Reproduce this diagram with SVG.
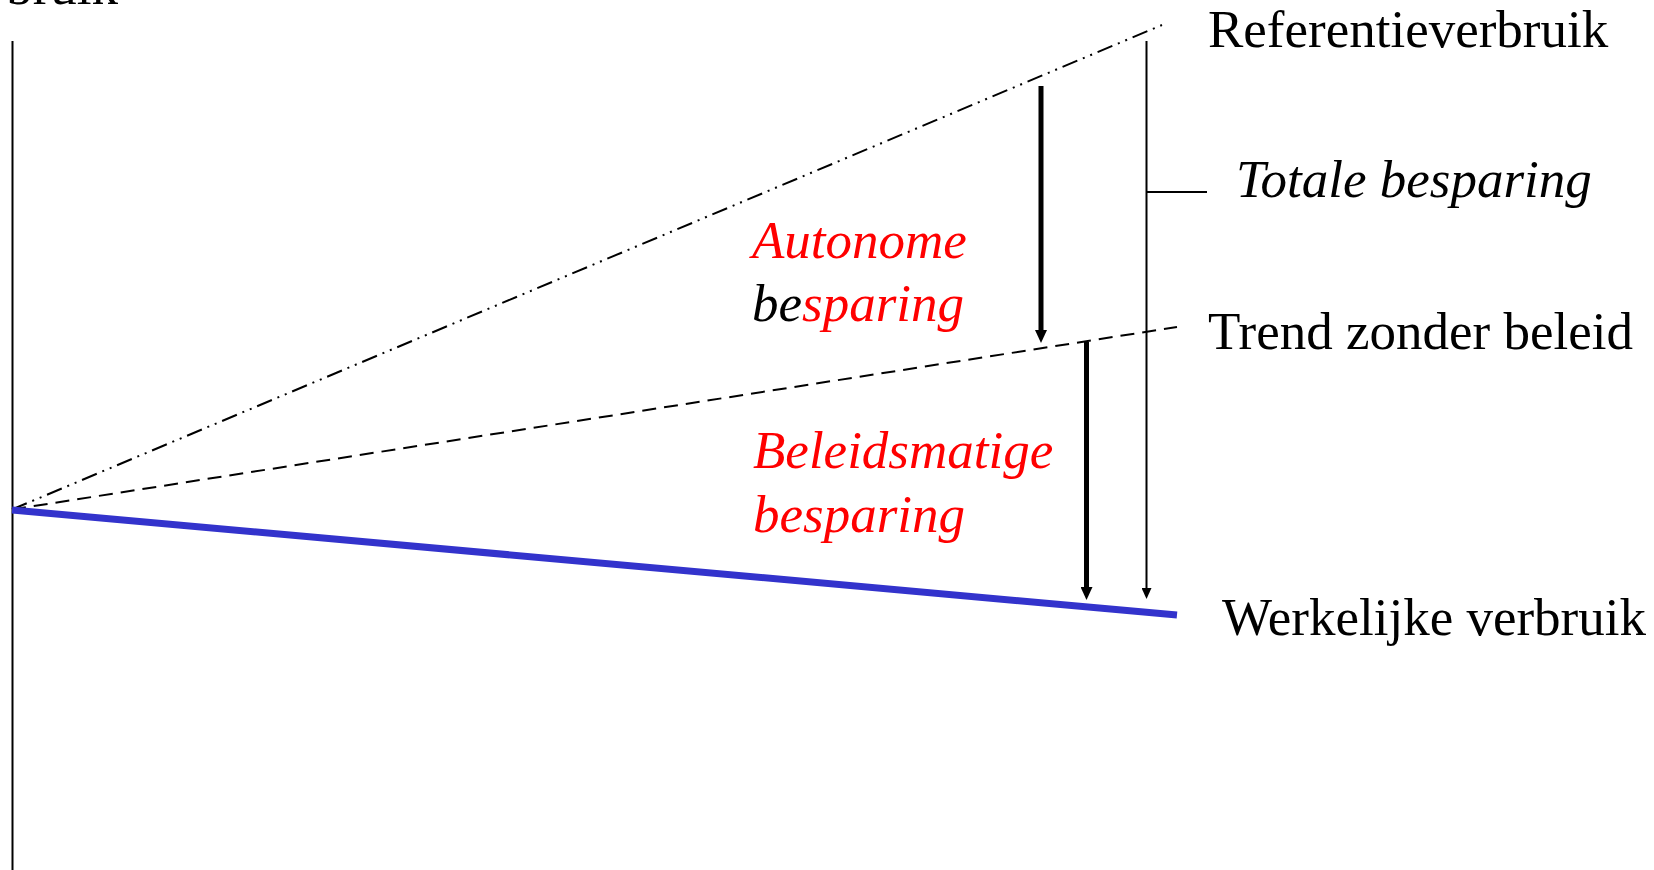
<svg xmlns="http://www.w3.org/2000/svg" width="1654" height="870" viewBox="0 0 1654 870">
<defs>
<style>
.lbl{font-family:"Liberation Serif","Times New Roman",serif;font-size:53px;fill:#000}
.it{font-style:italic}
.red{fill:#FF0000}
.thin{stroke:#000;stroke-width:2;fill:none}
.thick{stroke:#000;stroke-width:5;fill:none}
</style>
<marker id="headThick" markerUnits="userSpaceOnUse" viewBox="0 0 13 12" refX="0" refY="6" markerWidth="13" markerHeight="12" orient="auto">
<path d="M0,0 L13,6 L0,12 z" fill="#000"/>
</marker>
<marker id="headThin" markerUnits="userSpaceOnUse" viewBox="0 0 11 10" refX="0" refY="5" markerWidth="11" markerHeight="10" orient="auto">
<path d="M0,0 L11,5 L0,10 z" fill="#000"/>
</marker>
</defs>
<rect width="1654" height="870" fill="#fff"/>
<g id="axis">
<line x1="12.5" y1="41" x2="12.5" y2="870" class="thin"/>
<text class="lbl" x="118" y="4" text-anchor="end">bruik</text>
</g>
<g id="connectors">
<line id="referentie-line" x1="12" y1="509.5" x2="1162" y2="25" class="thin" stroke-dasharray="16 6 2 6 2 6"/>
<line id="trend-line" x1="12" y1="509.5" x2="1177" y2="327" class="thin" stroke-dasharray="14 8"/>
<line id="werkelijk-line" x1="12" y1="510" x2="1177" y2="615" stroke="#3333CC" stroke-width="7"/>
<line id="arrow-autonoom" x1="1041" y1="86" x2="1041" y2="330" class="thick" marker-end="url(#headThick)"/>
<line id="arrow-beleid" x1="1086.5" y1="342" x2="1086.5" y2="587" class="thick" marker-end="url(#headThick)"/>
<line id="arrow-totaal" x1="1146.5" y1="41" x2="1146.5" y2="588" class="thin" marker-end="url(#headThin)"/>
<line id="tick-totaal" x1="1146.5" y1="192" x2="1207" y2="192" class="thin"/>
</g>
<g id="label-referentie"><text class="lbl" x="1208" y="47">Referentieverbruik</text></g>
<g id="label-totaal"><text class="lbl it" x="1236" y="197">Totale besparing</text></g>
<g id="label-trend"><text class="lbl" x="1208" y="349">Trend zonder beleid</text></g>
<g id="label-werkelijk"><text class="lbl" x="1222" y="635">Werkelijke verbruik</text></g>
<g id="label-autonoom">
<text class="lbl it red" x="752" y="258">Autonome</text>
<text class="lbl it" x="752" y="321">be<tspan class="red">sparing</tspan></text>
</g>
<g id="label-beleid">
<text class="lbl it red" x="753" y="468">Beleidsmatige</text>
<text class="lbl it red" x="753" y="532">besparing</text>
</g>
</svg>
